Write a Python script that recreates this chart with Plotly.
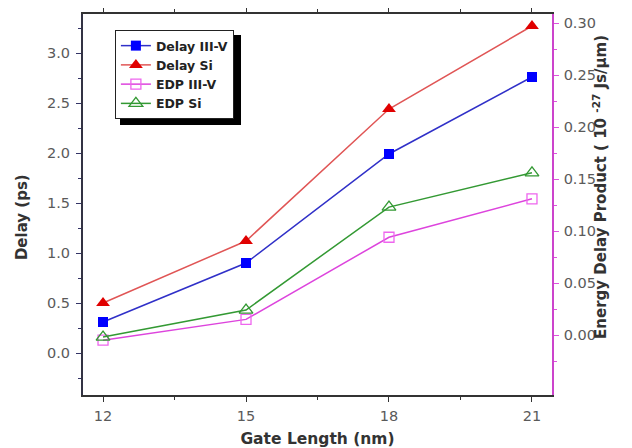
import plotly.graph_objects as go

gate_length = [12, 15, 18, 21]
delay_iiiv = [0.31, 0.90, 1.99, 2.76]
delay_si = [0.50, 1.12, 2.44, 3.27]
edp_iiiv = [-0.005, 0.015, 0.094, 0.131]
edp_si = [-0.002, 0.024, 0.123, 0.156]

x_ticks = [12, 15, 18, 21]
delay_ticks = [0.0, 0.5, 1.0, 1.5, 2.0, 2.5, 3.0]
edp_ticks = [0.00, 0.05, 0.10, 0.15, 0.20, 0.25, 0.30]

FONT = "DejaVu Sans, Arial, sans-serif"
TICK_SIZE = 14.5
TITLE_FONT = dict(family=FONT, size=15, color="#333333", weight="bold")

fig = go.Figure()
fig.add_trace(go.Scatter(x=gate_length, y=delay_iiiv, name="Delay III-V", mode="lines+markers",
                         line=dict(color="#3030c8", width=1.5),
                         marker=dict(symbol="square", size=10, color="#0000ff")))
fig.add_trace(go.Scatter(x=gate_length, y=delay_si, name="Delay Si", mode="lines+markers",
                         line=dict(color="#e05555", width=1.5),
                         marker=dict(symbol="triangle-up", size=12, color="#e00000")))
fig.add_trace(go.Scatter(x=gate_length, y=edp_iiiv, name="EDP III-V", mode="lines+markers", yaxis="y2",
                         line=dict(color="#dd44dd", width=1.5),
                         marker=dict(symbol="square-open", size=10, color="#ee66ee", line=dict(width=1.3))))
fig.add_trace(go.Scatter(x=gate_length, y=edp_si, name="EDP Si", mode="lines+markers", yaxis="y2",
                         line=dict(color="#339933", width=1.5),
                         marker=dict(symbol="triangle-up-open", size=12, color="#339933", line=dict(width=1.3))))

# page has an 8px body margin: figure 624x440 placed at (8, 8) -> plot area x 83..552, y 14..395
fig.update_layout(
    width=624, height=440,
    margin=dict(l=75, r=80, t=6, b=53, autoexpand=False),
    paper_bgcolor="white", plot_bgcolor="white",
    font=dict(family=FONT, size=12, color="#555555"),
    showlegend=True,
    legend=dict(x=0.068, y=0.958, xanchor="left", yanchor="top",
                bgcolor="white", bordercolor="#222222", borderwidth=1,
                font=dict(family=FONT, size=12.5, color="#222222", weight="bold"),
                tracegroupgap=0, itemwidth=30),
    xaxis=dict(range=[11.58, 21.42], tickvals=x_ticks, ticktext=[str(v) for v in x_ticks],
               automargin=False, ticklabelstandoff=2,
               ticks="outside", ticklen=5, tickwidth=1.2, tickcolor="#333333",
               showline=True, linecolor="#333333", linewidth=2, mirror="ticks",
               showgrid=False, zeroline=False,
               minor=dict(tickvals=[13.5, 16.5, 19.5], ticks="outside", ticklen=3, tickcolor="#333333"),
               title=dict(text="Gate Length (nm)", standoff=21,
                          font=dict(family=FONT, size=15.5, color="#333333", weight="bold")),
               tickfont=dict(size=TICK_SIZE, color="#5a5a5a")),
    yaxis=dict(range=[-0.42, 3.39], tickvals=delay_ticks, ticktext=[f"{v:.1f}" for v in delay_ticks],
               automargin=False, ticklabelstandoff=3,
               ticks="outside", ticklen=5, tickwidth=1.2, tickcolor="#333366",
               showline=True, linecolor="#333344", linewidth=2,
               showgrid=False, zeroline=False,
               minor=dict(tickvals=[-0.25, 0.25, 0.75, 1.25, 1.75, 2.25, 2.75, 3.25],
                          ticks="outside", ticklen=3, tickcolor="#333366"),
               tickfont=dict(size=TICK_SIZE, color="#5a5a5a")),
    yaxis2=dict(range=[-0.0577, 0.3087], tickvals=edp_ticks, ticktext=[f"{v:.2f}" for v in edp_ticks],
                overlaying="y", side="right", automargin=False, ticklabelstandoff=2,
                ticks="outside", ticklen=5, tickwidth=1.2, tickcolor="#dd55dd",
                showline=True, linecolor="#cc44cc", linewidth=1.5,
                showgrid=False, zeroline=False,
                minor=dict(tickvals=[-0.025, 0.025, 0.075, 0.125, 0.175, 0.225, 0.275],
                           ticks="outside", ticklen=3, tickcolor="#dd55dd"),
                tickfont=dict(size=TICK_SIZE, color="#5a5a5a")),
)

# axis titles for the y axes (placed as in the reference)
fig.add_annotation(text="Delay (ps)", xref="paper", yref="paper", x=-0.130, y=0.467,
                   textangle=-90, showarrow=False, xanchor="center", yanchor="middle",
                   font=TITLE_FONT)
fig.add_annotation(text="Energy Delay Product ( 10 <sup>-27</sup> Js/\u00b5m)", xref="paper", yref="paper",
                   x=1.1023, y=0.546, textangle=-90, showarrow=False,
                   xanchor="center", yanchor="middle", font=TITLE_FONT)

# legend drop shadow
fig.add_shape(type="rect", xref="paper", yref="paper",
              x0=0.0789, x1=0.3369, y0=0.7087, y1=0.945,
              fillcolor="black", line=dict(width=0), layer="above")

fig.write_html("out.html")
